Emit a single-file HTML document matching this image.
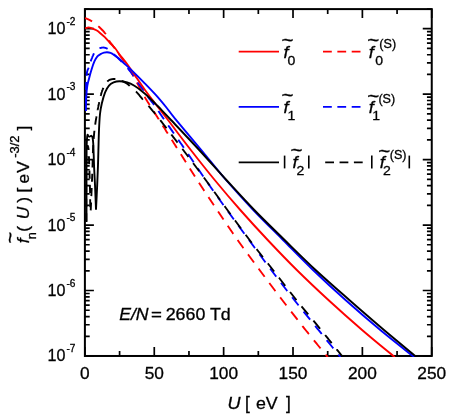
<!DOCTYPE html>
<html><head><meta charset="utf-8"><title>chart</title><style>
html,body{margin:0;padding:0;background:#fff;}
body{width:456px;height:417px;overflow:hidden;}
svg{display:block;will-change:transform;}
text{font-family:"Liberation Sans",sans-serif;fill:#000;stroke:#000;stroke-width:0.3px;}
.i{font-style:italic;}
</style></head><body>
<svg width="456" height="417" viewBox="0 0 456 417">
<rect width="456" height="417" fill="#fff"/>
<defs><clipPath id="c"><rect x="84.70" y="8.10" width="348.05" height="348.88"/></clipPath></defs>
<g stroke="#000" fill="none">
<rect x="84.90" y="9.10" width="346.85" height="346.88" stroke-width="2"/>
<path d="M84.90,355.98v-9 M84.90,9.10v9 M119.59,355.98v-5 M119.59,9.10v5 M154.27,355.98v-9 M154.27,9.10v9 M188.96,355.98v-5 M188.96,9.10v5 M223.64,355.98v-9 M223.64,9.10v9 M258.33,355.98v-5 M258.33,9.10v5 M293.01,355.98v-9 M293.01,9.10v9 M327.70,355.98v-5 M327.70,9.10v5 M362.38,355.98v-9 M362.38,9.10v9 M397.07,355.98v-5 M397.07,9.10v5 M431.75,355.98v-9 M431.75,9.10v9 M84.90,355.98h9.0 M431.75,355.98h-9.0 M84.90,336.28h4.8 M431.75,336.28h-4.8 M84.90,324.75h4.8 M431.75,324.75h-4.8 M84.90,316.57h4.8 M431.75,316.57h-4.8 M84.90,310.23h4.8 M431.75,310.23h-4.8 M84.90,305.05h4.8 M431.75,305.05h-4.8 M84.90,300.66h4.8 M431.75,300.66h-4.8 M84.90,296.87h4.8 M431.75,296.87h-4.8 M84.90,293.52h4.8 M431.75,293.52h-4.8 M84.90,290.52h9.0 M431.75,290.52h-9.0 M84.90,270.82h4.8 M431.75,270.82h-4.8 M84.90,259.29h4.8 M431.75,259.29h-4.8 M84.90,251.12h4.8 M431.75,251.12h-4.8 M84.90,244.77h4.8 M431.75,244.77h-4.8 M84.90,239.59h4.8 M431.75,239.59h-4.8 M84.90,235.21h4.8 M431.75,235.21h-4.8 M84.90,231.41h4.8 M431.75,231.41h-4.8 M84.90,228.06h4.8 M431.75,228.06h-4.8 M84.90,225.07h9.0 M431.75,225.07h-9.0 M84.90,205.36h4.8 M431.75,205.36h-4.8 M84.90,193.84h4.8 M431.75,193.84h-4.8 M84.90,185.66h4.8 M431.75,185.66h-4.8 M84.90,179.32h4.8 M431.75,179.32h-4.8 M84.90,174.13h4.8 M431.75,174.13h-4.8 M84.90,169.75h4.8 M431.75,169.75h-4.8 M84.90,165.96h4.8 M431.75,165.96h-4.8 M84.90,162.61h4.8 M431.75,162.61h-4.8 M84.90,159.61h9.0 M431.75,159.61h-9.0 M84.90,139.91h4.8 M431.75,139.91h-4.8 M84.90,128.38h4.8 M431.75,128.38h-4.8 M84.90,120.20h4.8 M431.75,120.20h-4.8 M84.90,113.86h4.8 M431.75,113.86h-4.8 M84.90,108.68h4.8 M431.75,108.68h-4.8 M84.90,104.30h4.8 M431.75,104.30h-4.8 M84.90,100.50h4.8 M431.75,100.50h-4.8 M84.90,97.15h4.8 M431.75,97.15h-4.8 M84.90,94.16h9.0 M431.75,94.16h-9.0 M84.90,74.45h4.8 M431.75,74.45h-4.8 M84.90,62.93h4.8 M431.75,62.93h-4.8 M84.90,54.75h4.8 M431.75,54.75h-4.8 M84.90,48.40h4.8 M431.75,48.40h-4.8 M84.90,43.22h4.8 M431.75,43.22h-4.8 M84.90,38.84h4.8 M431.75,38.84h-4.8 M84.90,35.04h4.8 M431.75,35.04h-4.8 M84.90,31.70h4.8 M431.75,31.70h-4.8 M84.90,28.70h9.0 M431.75,28.70h-9.0 M84.90,9.00h4.8 M431.75,9.00h-4.8 " stroke-width="1.7"/>
</g>
<g clip-path="url(#c)" fill="none" stroke-width="1.9" stroke-linejoin="round">
<path d="M85.10,18.00 L85.22,18.05 L85.34,18.11 L85.48,18.17 L85.64,18.24 L85.80,18.31 L85.98,18.39 L86.16,18.46 L86.36,18.55 L86.56,18.63 L86.77,18.72 L86.99,18.82 L87.21,18.91 L87.44,19.01 L87.68,19.11 L87.92,19.22 L88.16,19.33 L88.41,19.44 L88.66,19.55 L88.91,19.67 L89.16,19.79 L89.42,19.91 L89.67,20.03 L89.92,20.16 L90.17,20.29 L90.42,20.42 L90.66,20.55 L90.90,20.69 L91.14,20.82 L91.37,20.96 L91.60,21.10 L91.82,21.24 L92.05,21.39 L92.08,21.41 M98.30,26.22 L98.50,26.40 L98.74,26.61 L98.97,26.83 L99.22,27.05 L99.46,27.28 L99.71,27.51 L99.96,27.74 L100.21,27.98 L100.46,28.22 L100.71,28.46 L100.97,28.71 L101.22,28.95 L101.47,29.20 L101.73,29.46 L101.98,29.71 L102.23,29.96 L102.48,30.22 L102.73,30.47 L102.97,30.73 L103.22,30.99 L103.46,31.25 L103.69,31.51 L103.92,31.76 L104.15,32.02 L104.38,32.28 L104.59,32.54 L104.81,32.79 L105.01,33.05 L105.22,33.30 L105.41,33.55 L105.60,33.80 L105.78,34.05 L105.84,34.13 M109.08,40.35 L109.15,40.48 L109.26,40.70 L109.37,40.90 L109.49,41.11 L109.60,41.30 L109.71,41.49 L109.83,41.66 L109.93,41.83 L110.04,42.00 L110.15,42.16 L110.25,42.31 L110.35,42.45 L110.45,42.59 L110.55,42.73 L110.64,42.86 L110.74,42.99 L110.83,43.11 L110.93,43.23 L111.02,43.35 L111.11,43.46 L111.20,43.58 L111.29,43.69 L111.39,43.80 L111.48,43.91 L111.57,44.02 L111.66,44.13 L111.75,44.24 L111.84,44.35 L111.93,44.46 L112.02,44.58 L112.12,44.70 L112.21,44.82 L112.31,44.94 L112.40,45.07 L112.50,45.20 L112.60,45.34 L112.70,45.48 L112.81,45.62 L112.92,45.77 L113.03,45.92 L113.14,46.07 L113.26,46.23 L113.37,46.39 L113.49,46.54 L113.60,46.70 L113.72,46.86 L113.84,47.02 L113.95,47.18 L114.07,47.34 L114.18,47.49 L114.29,47.65 L114.40,47.80 L114.51,47.95 L114.62,48.09 L114.72,48.23 L114.82,48.37 L114.88,48.45" stroke="#f00"/>
<path d=" M118.70,53.90 L118.73,53.94 L118.88,54.16 L119.04,54.38 L119.20,54.60 L119.36,54.82 L119.53,55.05 L119.69,55.28 L119.87,55.51 L120.04,55.75 L120.22,55.99 L120.41,56.23 L120.59,56.48 L120.78,56.73 L120.97,56.98 L121.16,57.24 L121.36,57.50 L121.56,57.76 L121.76,58.02 L121.96,58.29 L122.16,58.56 L122.36,58.83 L122.56,59.10 L122.77,59.37 L122.97,59.65 L123.18,59.93 L123.38,60.21 L123.59,60.49 L123.79,60.78 L124.00,61.06 L124.20,61.35 L124.40,61.63 L124.60,61.92 L124.66,62.00 M128.71,68.22 L128.81,68.38 L129.01,68.71 L129.21,69.03 L129.41,69.36 L129.61,69.69 L129.81,70.02 L130.01,70.35 L130.21,70.68 L130.41,71.01 L130.61,71.34 L130.80,71.67 L131.00,72.00 L131.20,72.33 L131.40,72.67 L131.60,73.02 L131.80,73.36 L132.00,73.71 L132.20,74.07 L132.40,74.42 L132.60,74.78 L132.81,75.14 L133.01,75.50 L133.21,75.87 L133.41,76.23 L133.46,76.32 M136.88,82.54 L136.96,82.70 L137.13,82.99 L137.28,83.27 L137.44,83.55 L137.59,83.83 L137.74,84.10 L137.89,84.36 L138.03,84.62 L138.18,84.88 L138.32,85.13 L138.46,85.38 L138.60,85.63 L138.73,85.88 L138.87,86.12 L139.00,86.36 L139.13,86.60 L139.27,86.84 L139.40,87.08 L139.53,87.32 L139.66,87.56 L139.79,87.79 L139.92,88.03 L140.05,88.27 L140.19,88.51 L140.32,88.75 L140.45,89.00 L140.59,89.24 L140.72,89.49 L140.86,89.75 L141.00,90.00 L141.14,90.26 L141.28,90.51 L141.35,90.64 M144.66,96.86 L144.76,97.02 L144.90,97.28 L145.05,97.54 L145.20,97.80 L145.35,98.05 L145.49,98.30 L145.64,98.54 L145.78,98.78 L145.91,99.01 L146.05,99.24 L146.19,99.46 L146.32,99.68 L146.46,99.90 L146.59,100.12 L146.73,100.34 L146.87,100.56 L147.00,100.78 L147.14,101.01 L147.29,101.23 L147.43,101.46 L147.58,101.70 L147.73,101.94 L147.89,102.18 L148.05,102.43 L148.22,102.69 L148.39,102.96 L148.57,103.24 L148.75,103.53 L148.94,103.82 L149.14,104.13 L149.34,104.46 L149.55,104.79 L149.66,104.96 M153.60,111.18 L153.71,111.36 L154.00,111.81 L154.30,112.28 L154.60,112.76 L154.92,113.25 L155.24,113.77 L155.58,114.30 L155.93,114.84 L156.29,115.41 L156.66,116.00 L157.05,116.61 L157.45,117.24 L157.86,117.89 L158.29,118.57 L158.74,119.27 L158.74,119.28 M162.68,125.50 L162.96,125.94 L163.56,126.89 L164.18,127.86 L164.81,128.85 L165.45,129.86 L166.09,130.88 L166.75,131.92 L167.42,132.97 L167.81,133.60 M171.75,139.82 L172.19,140.51 L172.88,141.60 L173.56,142.68 L174.24,143.75 L174.92,144.82 L175.59,145.88 L176.26,146.93 L176.88,147.92 M180.81,154.14 L181.36,155.00 L181.99,156.00 L182.61,157.00 L183.24,158.00 L183.87,159.00 L184.50,160.00 L185.13,161.00 L185.76,162.00 L185.91,162.24 M189.83,168.46 L190.17,169.00 L190.80,170.00 L191.43,171.00 L192.07,172.00 L192.70,173.00 L193.34,174.00 L193.98,175.00 L194.62,176.00 L194.98,176.56 M199.01,182.78 L199.15,183.00 L199.80,184.00 L200.46,185.00 L201.11,186.00 L201.77,187.00 L202.43,188.00 L203.08,189.00 L203.74,190.00 L204.33,190.88 M208.45,197.10 L209.05,198.00 L209.72,199.00 L210.39,200.00 L211.06,201.00 L211.73,202.00 L212.40,203.00 L213.07,204.00 L213.74,205.00 L213.87,205.20 M218.06,211.42 L218.45,212.00 L219.12,213.00 L219.79,214.00 L220.46,215.00 L221.14,216.00 L221.81,217.00 L222.48,218.00 L223.16,219.00 L223.51,219.52 M227.72,225.74 L227.90,226.00 L228.58,227.00 L229.26,228.00 L229.95,229.00 L230.63,230.00 L231.32,231.00 L232.01,232.00 L232.70,233.00 L233.28,233.84 M237.64,240.06 L238.31,241.00 L239.02,242.00 L239.74,243.00 L240.45,244.00 L241.17,245.00 L241.89,246.00 L242.62,247.00 L243.34,248.00 L243.46,248.16 M248.01,254.38 L248.47,255.00 L249.21,256.00 L249.95,257.00 L250.68,258.00 L251.43,259.00 L252.17,260.00 L252.91,261.00 L253.65,262.00 L254.01,262.48 M258.63,268.70 L258.86,269.00 L259.60,270.00 L260.34,271.00 L261.09,272.00 L261.83,273.00 L262.58,274.00 L263.32,275.00 L264.07,276.00 L264.67,276.80 M269.32,283.02 L270.06,284.00 L270.81,285.00 L271.57,286.00 L272.32,287.00 L273.07,288.00 L273.83,289.00 L274.59,290.00 L275.34,291.00 L275.43,291.12 M280.16,297.34 L280.67,298.00 L281.43,299.00 L282.20,300.00 L282.97,301.00 L283.74,302.01 L284.51,303.01 L285.29,304.02 L286.07,305.03 L286.38,305.44 M291.19,311.66 L291.56,312.13 L292.35,313.15 L293.14,314.16 L293.92,315.17 L294.71,316.18 L295.50,317.19 L296.29,318.20 L297.07,319.20 L297.51,319.76 M302.41,325.98 L302.53,326.14 L303.30,327.11 L304.07,328.08 L304.84,329.04 L305.60,330.00 L306.37,330.97 L307.16,331.95 L307.97,332.96 L308.79,333.98 L308.87,334.08 M313.92,340.30 L314.78,341.35 L315.64,342.41 L316.49,343.45 L317.33,344.48 L318.17,345.50 L318.99,346.50 L319.79,347.48 L320.55,348.40 M325.66,354.62 L325.97,355.00 L326.49,355.64 L326.98,356.23 L327.42,356.77 L327.81,357.25" stroke="#f00"/>
<path d="M85.90,111.00 L85.90,110.62 L85.90,110.61 M85.90,104.39 L85.90,103.89 L85.90,103.11 L85.90,102.32 L85.90,101.52 L85.90,100.71 L85.90,99.89 L85.90,99.07 L85.91,98.25 L85.91,97.43 L85.92,96.62 L85.92,96.29 M86.00,90.07 L86.00,90.00 L86.02,89.38 L86.03,88.76 L86.05,88.13 L86.06,87.51 L86.08,86.90 L86.10,86.28 L86.12,85.67 L86.13,85.06 L86.15,84.45 L86.17,83.85 L86.20,83.25 L86.22,82.66 L86.24,82.08 L86.24,81.97 M86.60,75.75 L86.63,75.34 L86.67,74.90 L86.71,74.49 L86.76,74.09 L86.80,73.70 L86.85,73.33 L86.89,72.99 L86.94,72.67 L86.99,72.37 L87.05,72.08 L87.10,71.81 L87.16,71.56 L87.21,71.33 L87.27,71.10 L87.33,70.89 L87.39,70.69 L87.46,70.50 L87.52,70.32 L87.58,70.15 L87.65,69.98 L87.72,69.82 L87.78,69.66 L87.85,69.50 L87.92,69.35 L87.99,69.20 L88.06,69.04 L88.13,68.88 L88.20,68.72 L88.27,68.56 L88.34,68.39 L88.41,68.21 L88.48,68.02 L88.56,67.83 L88.62,67.65 M90.64,61.43 L90.73,61.19 L90.82,60.94 L90.91,60.70 L91.00,60.45 L91.10,60.20 L91.20,59.95 L91.30,59.69 L91.40,59.43 L91.50,59.17 L91.61,58.90 L91.71,58.62 L91.82,58.35 L91.93,58.07 L92.04,57.79 L92.16,57.51 L92.27,57.23 L92.38,56.95 L92.50,56.67 L92.61,56.40 L92.73,56.12 L92.85,55.84 L92.97,55.57 L93.08,55.30 L93.20,55.04 L93.32,54.77 L93.44,54.52 L93.56,54.27 L93.68,54.02 L93.80,53.78 L93.92,53.55 L94.03,53.33 M99.48,48.23 L99.51,48.22 L99.61,48.19 L99.72,48.15 L99.82,48.12 L99.93,48.09 L100.03,48.06 L100.14,48.03 L100.24,48.01 L100.35,47.98 L100.45,47.96 L100.56,47.93 L100.66,47.91 L100.77,47.89 L100.88,47.87 L100.98,47.84 L101.09,47.82 L101.20,47.80 L101.31,47.78 L101.42,47.76 L101.52,47.74 L101.63,47.72 L101.74,47.70 L101.84,47.68 L101.95,47.66 L102.05,47.65 L102.16,47.63 L102.27,47.62 L102.37,47.61 L102.48,47.59 L102.59,47.58 L102.69,47.58 L102.80,47.57 L102.91,47.56 L103.02,47.56 L103.12,47.56 L103.23,47.56 L103.34,47.56 L103.46,47.56 L103.57,47.57 L103.68,47.58 L103.79,47.59 L103.91,47.60 L104.02,47.61 L104.14,47.63 L104.26,47.65 L104.38,47.67 L104.50,47.70 L104.62,47.73 L104.75,47.76 L104.87,47.79 L104.99,47.82 L105.12,47.85 L105.25,47.89 L105.37,47.92 L105.50,47.96 L105.63,48.00 L105.76,48.04 L105.89,48.09 L106.03,48.14 L106.16,48.18 L106.29,48.23 L106.42,48.29 L106.56,48.34 L106.69,48.40 L106.83,48.46 L106.97,48.52 L107.10,48.59 L107.24,48.66 L107.38,48.73 L107.52,48.80 L107.58,48.84 M113.80,54.22 L113.88,54.29 L114.06,54.45 L114.24,54.61 L114.42,54.76 L114.60,54.92 L114.79,55.09 L114.97,55.25 L115.16,55.41 L115.35,55.58 L115.54,55.75 L115.73,55.92 L115.93,56.09 L116.13,56.27 L116.33,56.45 L116.53,56.64 L116.74,56.83 L116.95,57.02 L117.16,57.22 L117.38,57.42 L117.60,57.63 L117.82,57.84 L118.05,58.06 L118.28,58.29 L118.52,58.52 L118.76,58.76 L119.00,59.00 L119.25,59.25 L119.51,59.52 L119.78,59.79 L120.05,60.07 L120.34,60.36 L120.63,60.66 L120.92,60.96 L121.22,61.27 L121.52,61.58 L121.83,61.90 M127.56,68.12 L127.80,68.40 L128.04,68.69 L128.29,68.97 L128.52,69.25 L128.75,69.53 L128.98,69.81 L129.21,70.08 L129.43,70.35 L129.65,70.63 L129.86,70.90 L130.07,71.16 L130.28,71.43 L130.49,71.69 L130.69,71.96 L130.89,72.22 L131.09,72.48 L131.28,72.73 L131.47,72.99 L131.66,73.24 L131.85,73.50 L132.04,73.75 L132.22,74.00 L132.40,74.25 L132.58,74.50 L132.76,74.74 L132.94,74.99 L133.11,75.23 L133.29,75.48 L133.46,75.72 L133.63,75.96 L133.80,76.20 L133.81,76.22 M137.75,82.44 L137.84,82.57 L138.00,82.80 L138.16,83.03 L138.33,83.26 L138.49,83.50 L138.66,83.73 L138.84,83.97 L139.01,84.20 L139.19,84.44 L139.37,84.68 L139.55,84.92 L139.73,85.16 L139.92,85.40 L140.10,85.64 L140.29,85.88 L140.48,86.12 L140.66,86.36 L140.85,86.61 L141.04,86.85 L141.23,87.09 L141.41,87.33 L141.60,87.58 L141.79,87.82 L141.97,88.06 L142.16,88.31 L142.34,88.55 L142.52,88.79 L142.70,89.04 L142.88,89.28 L143.05,89.52 L143.23,89.76 L143.40,90.00 L143.57,90.24 L143.73,90.48 L143.78,90.54 M147.89,96.76 L148.02,96.95 L148.20,97.20 L148.38,97.45 L148.56,97.69 L148.73,97.92 L148.91,98.15 L149.08,98.38 L149.25,98.61 L149.43,98.83 L149.60,99.05 L149.78,99.27 L149.95,99.49 L150.13,99.71 L150.31,99.93 L150.49,100.16 L150.67,100.38 L150.86,100.61 L151.04,100.85 L151.24,101.09 L151.43,101.33 L151.63,101.58 L151.84,101.84 L152.05,102.11 L152.26,102.39 L152.48,102.67 L152.71,102.97 L152.94,103.28 L153.18,103.59 L153.42,103.93 L153.67,104.27 L153.93,104.63 L154.10,104.86 M158.40,111.08 L158.42,111.11 L158.74,111.59 L159.07,112.07 L159.41,112.57 L159.76,113.09 L160.12,113.62 L160.50,114.17 L160.88,114.74 L161.28,115.32 L161.69,115.92 L162.12,116.55 L162.56,117.19 L163.02,117.86 L163.50,118.55 L163.93,119.18 M168.26,125.40 L168.66,125.97 L169.33,126.92 L170.01,127.90 L170.70,128.89 L171.41,129.90 L172.13,130.92 L172.85,131.96 L173.58,133.00 L173.93,133.50 M178.28,139.72 L178.84,140.53 L179.59,141.61 L180.34,142.69 L181.09,143.76 L181.83,144.83 L182.56,145.88 L183.29,146.93 L183.90,147.82 M188.16,154.04 L188.81,155.00 L189.48,156.00 L190.16,157.00 L190.83,158.00 L191.50,159.00 L192.17,160.00 L192.84,161.00 L193.52,162.00 L193.61,162.14 M197.78,168.36 L198.21,169.00 L198.88,170.00 L199.56,171.00 L200.23,172.00 L200.91,173.00 L201.59,174.00 L202.27,175.00 L202.95,176.00 L203.26,176.46 M207.56,182.68 L207.79,183.00 L208.48,184.00 L209.18,185.00 L209.88,186.00 L210.59,187.00 L211.29,188.00 L211.99,189.00 L212.70,190.00 L213.25,190.78 M217.67,197.00 L218.38,198.00 L219.10,199.00 L219.81,200.00 L220.53,201.00 L221.24,202.00 L221.96,203.00 L222.68,204.00 L223.40,205.00 L223.47,205.10 M227.95,211.32 L228.45,212.00 L229.17,213.00 L229.90,214.00 L230.62,215.00 L231.35,216.00 L232.08,217.00 L232.81,218.00 L233.54,219.00 L233.85,219.42 M238.41,225.64 L238.68,226.00 L239.42,227.00 L240.15,228.00 L240.89,229.00 L241.63,230.00 L242.36,231.00 L243.10,232.00 L243.84,233.00 L244.38,233.74 M248.97,239.96 L249.00,240.00 L249.74,241.00 L250.47,242.00 L251.21,243.00 L251.94,244.00 L252.68,245.00 L253.41,246.00 L254.15,247.00 L254.88,248.00 L254.93,248.06 M259.50,254.28 L260.03,255.00 L260.77,256.00 L261.51,257.00 L262.25,258.00 L262.99,259.00 L263.73,260.00 L264.47,261.00 L265.21,262.00 L265.49,262.38 M270.14,268.60 L270.45,269.00 L271.20,270.00 L271.96,271.00 L272.71,272.00 L273.47,273.00 L274.23,274.00 L274.99,275.00 L275.74,276.00 L276.28,276.70 M281.03,282.92 L281.09,283.00 L281.86,284.00 L282.62,285.00 L283.39,286.00 L284.17,287.00 L284.94,288.00 L285.71,289.00 L286.49,290.00 L287.26,291.00 L287.28,291.02 M292.13,297.24 L292.73,298.00 L293.51,299.00 L294.30,300.00 L295.09,301.00 L295.89,302.01 L296.69,303.01 L297.49,304.02 L298.29,305.03 L298.54,305.34 M303.54,311.56 L304.00,312.13 L304.82,313.15 L305.65,314.16 L306.47,315.17 L307.29,316.18 L308.10,317.19 L308.92,318.20 L309.74,319.20 L310.11,319.66 M315.16,325.88 L315.37,326.14 L316.16,327.11 L316.95,328.08 L317.73,329.04 L318.50,330.00 L319.28,330.97 L320.08,331.95 L320.89,332.96 L321.72,333.98 M326.75,340.20 L326.83,340.30 L327.68,341.35 L328.53,342.41 L329.38,343.45 L330.21,344.48 L331.04,345.50 L331.85,346.50 L332.64,347.48 L333.31,348.30 M338.34,354.52 L338.73,355.00 L339.25,355.64 L339.73,356.23 L340.16,356.77 L340.55,357.25" stroke="#00f"/>
<path d=" M86.30,221.24 L86.30,220.98 L86.30,220.39 L86.30,219.75 L86.30,219.06 L86.30,218.33 L86.30,217.55 L86.30,216.74 L86.30,215.88 L86.30,215.00 L86.30,214.09 L86.30,213.14 L86.30,213.14 M86.29,206.92 L86.29,206.05 L86.29,205.00 L86.29,203.95 L86.29,202.90 L86.29,201.86 L86.29,200.83 L86.29,199.81 L86.29,198.82 M86.30,192.60 L86.30,192.25 L86.31,191.31 L86.31,190.36 L86.31,189.41 L86.31,188.45 L86.31,187.49 L86.31,186.52 L86.31,185.56 L86.32,184.59 L86.32,184.50 M86.33,178.28 L86.33,177.94 L86.34,177.02 L86.34,176.11 L86.34,175.22 L86.35,174.34 L86.35,173.48 L86.36,172.63 L86.36,171.81 L86.37,171.00 L86.38,170.21 L86.38,170.18 M86.46,163.96 L86.46,163.51 L86.47,162.93 L86.49,162.37 L86.50,161.81 L86.51,161.28 L86.52,160.75 L86.53,160.24 L86.54,159.74 L86.56,159.25 L86.57,158.77 L86.58,158.30 L86.60,157.85 L86.61,157.40 L86.63,156.96 L86.64,156.53 L86.66,156.11 L86.67,155.86 M87.03,149.64 L87.06,149.38 L87.08,149.10 L87.11,148.82 L87.14,148.56 L87.16,148.31 L87.19,148.07 L87.22,147.84 L87.25,147.62 L87.27,147.42 L87.30,147.22 L87.33,147.04 L87.36,146.87 L87.39,146.71 L87.42,146.57 L87.45,146.44 L87.48,146.32 L87.51,146.22 L87.54,146.13 L87.57,146.06 L87.60,146.00 L87.63,145.95 L87.66,145.91 L87.69,145.88 L87.72,145.86 L87.76,145.84 L87.79,145.84 L87.82,145.85 L87.86,145.86 L87.89,145.89 L87.93,145.93 L87.96,145.98 L88.00,146.04 L88.03,146.12 L88.07,146.21 L88.10,146.31 L88.13,146.43 L88.17,146.57 L88.20,146.72 L88.24,146.89 L88.27,147.07 L88.31,147.28 L88.34,147.50 L88.38,147.74 L88.41,148.00 L88.44,148.28 L88.48,148.58 L88.51,148.90 L88.54,149.25 L88.57,149.61 L88.60,150.00 L88.60,150.04 M88.92,156.26 L88.94,156.85 L88.97,157.55 L89.00,158.27 L89.02,159.00 L89.05,159.74 L89.08,160.48 L89.10,161.23 L89.13,161.99 L89.16,162.74 L89.18,163.50 L89.21,164.25 L89.21,164.36 M89.42,170.58 L89.42,170.67 L89.45,171.33 L89.47,171.99 L89.49,172.65 L89.51,173.31 L89.53,173.97 L89.56,174.62 L89.58,175.28 L89.60,175.94 L89.62,176.59 L89.64,177.25 L89.66,177.90 L89.68,178.56 L89.68,178.68 M89.86,184.90 L89.87,185.20 L89.89,185.87 L89.91,186.55 L89.93,187.23 L89.94,187.92 L89.96,188.61 L89.98,189.30 L90.00,190.00 L90.02,190.73 L90.03,191.50 L90.05,192.32 L90.06,193.00 M90.16,199.22 L90.17,199.79 L90.18,200.77 L90.19,201.74 L90.21,202.69 L90.22,203.62 L90.23,204.54 L90.25,205.42 L90.26,206.27 L90.28,207.08 L90.28,207.32 M90.68,210.46 L90.69,210.38 L90.72,209.84 L90.76,209.24 L90.80,208.57 L90.83,207.85 L90.87,207.08 L90.91,206.27 L90.95,205.42 L90.99,204.54 L91.03,203.62 L91.07,202.69 L91.09,202.36 M91.34,196.14 L91.35,195.91 L91.39,194.98 L91.43,194.06 L91.46,193.17 L91.50,192.32 L91.53,191.50 L91.57,190.73 L91.60,190.00 L91.63,189.30 L91.66,188.61 L91.69,188.04 M91.95,181.82 L91.98,181.19 L92.00,180.53 L92.03,179.88 L92.06,179.22 L92.08,178.56 L92.11,177.90 L92.13,177.25 L92.16,176.59 L92.18,175.94 L92.21,175.28 L92.23,174.62 L92.26,173.97 L92.27,173.72 M92.48,167.50 L92.49,167.29 L92.51,166.61 L92.53,165.92 L92.55,165.23 L92.56,164.54 L92.58,163.84 L92.60,163.15 L92.62,162.45 L92.64,161.76 L92.65,161.07 L92.67,160.38 L92.69,159.69 L92.69,159.40 M92.87,153.18 L92.88,153.04 L92.90,152.42 L92.92,151.80 L92.95,151.19 L92.97,150.59 L93.00,150.00 L93.03,149.42 L93.05,148.85 L93.08,148.28 L93.11,147.71 L93.14,147.16 L93.17,146.61 L93.20,146.06 L93.23,145.52 L93.26,145.08 M93.68,138.86 L93.71,138.54 L93.74,138.08 L93.78,137.63 L93.82,137.18 L93.85,136.73 L93.89,136.29 L93.93,135.86 L93.96,135.43 L94.00,135.00 L94.04,134.58 L94.07,134.16 L94.11,133.76 L94.15,133.35 L94.19,132.95 L94.23,132.56 L94.27,132.17 L94.31,131.79 L94.35,131.42 L94.39,131.04 L94.42,130.76 M95.21,124.54 L95.24,124.33 L95.27,124.06 L95.31,123.81 L95.34,123.56 L95.37,123.32 L95.41,123.09 L95.44,122.87 L95.47,122.65 L95.50,122.44 L95.53,122.23 L95.56,122.03 L95.60,121.83 L95.63,121.63 L95.66,121.44 L95.69,121.25 L95.72,121.06 L95.75,120.87 L95.78,120.68 L95.81,120.49 L95.84,120.30 L95.88,120.11 L95.91,119.92 L95.94,119.72 L95.98,119.52 L96.01,119.31 L96.05,119.10 L96.08,118.89 L96.12,118.66 L96.16,118.44 L96.20,118.20 L96.24,117.96 L96.28,117.71 L96.32,117.46 L96.37,117.21 L96.41,116.96 L96.45,116.70 L96.49,116.44 M97.60,110.22 L97.60,110.20 L97.65,109.93 L97.70,109.67 L97.75,109.40 L97.81,109.13 L97.86,108.85 L97.91,108.58 L97.97,108.31 L98.02,108.03 L98.07,107.76 L98.13,107.49 L98.18,107.21 L98.24,106.94 L98.30,106.66 L98.35,106.39 L98.41,106.12 L98.46,105.85 L98.52,105.58 L98.57,105.31 L98.63,105.05 L98.68,104.78 L98.74,104.52 L98.79,104.26 L98.84,104.00 L98.90,103.75 L98.95,103.50 L99.00,103.25 L99.05,103.01 L99.10,102.77 L99.15,102.53 L99.20,102.30 L99.24,102.12 M100.64,95.90 L100.70,95.69 L100.77,95.44 L100.83,95.19 L100.90,94.94 L100.98,94.68 L101.05,94.42 L101.12,94.16 L101.20,93.89 L101.27,93.62 L101.35,93.36 L101.43,93.08 L101.51,92.81 L101.59,92.54 L101.68,92.26 L101.77,91.99 L101.85,91.71 L101.94,91.44 L102.04,91.16 L102.13,90.89 L102.23,90.62 L102.33,90.34 L102.43,90.07 L102.54,89.81 L102.64,89.54 L102.75,89.27 L102.87,89.01 L102.98,88.76 L103.10,88.50 L103.22,88.24 L103.35,87.98 L103.44,87.80 M107.35,81.58 L107.40,81.53 L107.55,81.36 L107.70,81.20 L107.85,81.05 L108.00,80.91 L108.14,80.78 L108.29,80.65 L108.44,80.54 L108.58,80.43 L108.73,80.33 L108.88,80.23 L109.02,80.15 L109.17,80.07 L109.31,79.99 L109.46,79.92 L109.60,79.86 L109.74,79.80 L109.89,79.74 L110.03,79.69 L110.17,79.65 L110.32,79.60 L110.46,79.56 L110.60,79.52 L110.74,79.49 L110.88,79.45 L111.02,79.42 L111.16,79.39 L111.30,79.36 L111.44,79.33 L111.58,79.30 L111.72,79.26 L111.86,79.23 L112.00,79.20 L112.14,79.17 L112.27,79.14 L112.41,79.11 L112.54,79.09 L112.67,79.07 L112.80,79.05 L112.93,79.03 L113.06,79.02 L113.19,79.01 L113.32,79.00 L113.45,78.99 L113.57,78.99 L113.70,78.99 L113.83,78.99 L113.96,78.99 L114.08,78.99 L114.21,79.00 L114.34,79.00 L114.47,79.01 L114.60,79.02 L114.74,79.03 L114.87,79.05 L115.00,79.06 L115.14,79.08 L115.28,79.10 L115.41,79.11 M121.63,80.86 L121.74,80.91 L121.93,80.99 L122.12,81.08 L122.32,81.17 L122.52,81.26 L122.72,81.35 L122.92,81.44 L123.12,81.54 L123.32,81.64 L123.52,81.74 L123.72,81.84 L123.92,81.94 L124.12,82.04 L124.32,82.14 L124.52,82.24 L124.71,82.34 L124.90,82.44 L125.09,82.55 L125.28,82.65 L125.46,82.74 L125.64,82.84 L125.81,82.94 L125.98,83.04 L126.14,83.13 L126.30,83.22 L126.45,83.31 L126.60,83.40 L126.74,83.48 L126.87,83.56 L126.99,83.64 L127.10,83.71 L127.20,83.77 L127.30,83.84 L127.39,83.90 L127.48,83.96 L127.56,84.02 L127.64,84.07 L127.71,84.13 L127.79,84.19 L127.86,84.24 L127.93,84.30 L128.00,84.36 L128.07,84.42 L128.15,84.49 L128.22,84.56 L128.30,84.63 L128.39,84.70 L128.47,84.78 L128.57,84.87 L128.67,84.96 L128.77,85.06 L128.89,85.16 L129.01,85.27 L129.14,85.39 L129.28,85.52 L129.44,85.65 L129.60,85.80 L129.73,85.92 M135.95,91.54 L136.09,91.67 L136.33,91.92 L136.57,92.16 L136.80,92.40 L137.03,92.64 L137.26,92.89 L137.49,93.14 L137.72,93.39 L137.95,93.65 L138.18,93.91 L138.41,94.18 L138.63,94.44 L138.86,94.71 L139.09,94.98 L139.32,95.25 L139.54,95.52 L139.77,95.79 L139.99,96.06 L140.21,96.34 L140.43,96.61 L140.66,96.88 L140.88,97.15 L141.09,97.42 L141.31,97.69 L141.53,97.95 L141.74,98.22 L141.95,98.48 L142.17,98.74 L142.38,98.99 L142.58,99.24 L142.79,99.49 L142.92,99.64 M148.50,105.86 L148.51,105.87 L148.66,106.04 L148.80,106.20 L148.93,106.35 L149.06,106.50 L149.17,106.63 L149.28,106.75 L149.38,106.86 L149.47,106.97 L149.55,107.07 L149.63,107.16 L149.71,107.25 L149.78,107.33 L149.85,107.42 L149.92,107.50 L149.98,107.58 L150.05,107.66 L150.12,107.74 L150.19,107.82 L150.26,107.91 L150.33,108.00 L150.41,108.10 L150.50,108.20 L150.59,108.31 L150.68,108.43 L150.79,108.56 L150.90,108.70 L151.02,108.85 L151.15,109.01 L151.30,109.18 L151.45,109.37 L151.62,109.58 L151.80,109.80 L151.99,110.03 L152.17,110.25 L152.35,110.46 L152.53,110.68 L152.71,110.89 L152.88,111.10 L153.06,111.31 L153.25,111.53 L153.43,111.75 L153.63,111.98 L153.82,112.21 L154.03,112.45 L154.24,112.71 L154.46,112.97 L154.69,113.25 L154.94,113.54 L155.19,113.85 L155.28,113.96 M160.24,120.18 L160.64,120.69 L161.21,121.43 L161.81,122.20 L162.44,123.01 L163.10,123.85 L163.78,124.73 L164.49,125.64 L165.21,126.58 L165.96,127.54 L166.53,128.28 M171.33,134.50 L171.60,134.85 L172.44,135.95 L173.29,137.05 L174.14,138.16 L175.00,139.27 L175.85,140.38 L176.70,141.48 L177.54,142.59 L177.55,142.60 M182.30,148.82 L182.43,148.99 L183.20,150.00 L183.96,151.00 L184.72,152.00 L185.48,153.00 L186.24,154.00 L186.99,155.00 L187.75,156.00 L188.45,156.92 M193.14,163.14 L193.79,164.00 L194.54,165.00 L195.29,166.00 L196.04,167.00 L196.79,168.00 L197.53,169.00 L198.28,170.00 L199.03,171.00 L199.21,171.24 M203.83,177.46 L204.22,178.00 L204.96,179.00 L205.70,180.00 L206.44,181.00 L207.17,182.00 L207.90,183.00 L208.63,184.00 L209.36,185.00 L209.76,185.56 M214.26,191.78 L214.41,192.00 L215.13,193.00 L215.85,194.00 L216.57,195.00 L217.29,196.00 L218.00,197.00 L218.72,198.00 L219.44,199.00 L220.07,199.88 M224.56,206.10 L225.21,207.00 L225.94,208.00 L226.67,209.00 L227.40,210.00 L228.13,211.00 L228.86,212.00 L229.59,213.00 L230.33,214.00 L230.47,214.20 M235.03,220.42 L235.45,221.00 L236.19,222.00 L236.92,223.00 L237.66,224.00 L238.39,225.00 L239.13,226.00 L239.87,227.00 L240.61,228.00 L240.99,228.52 M245.63,234.74 L245.82,235.00 L246.58,236.00 L247.33,237.00 L248.08,238.00 L248.84,239.00 L249.60,240.00 L250.36,241.00 L251.13,242.00 L251.77,242.84 M256.58,249.06 L257.31,250.00 L258.09,251.00 L258.87,252.00 L259.66,253.00 L260.44,254.00 L261.22,255.00 L262.01,256.00 L262.80,257.00 L262.92,257.16 M267.81,263.38 L268.30,264.00 L269.09,265.00 L269.87,266.00 L270.65,267.00 L271.44,268.00 L272.22,269.00 L273.00,270.00 L273.78,271.00 L274.15,271.48 M278.97,277.70 L279.21,278.00 L279.98,279.00 L280.75,280.00 L281.52,281.00 L282.30,282.00 L283.07,283.00 L283.84,284.00 L284.62,285.00 L285.24,285.80 M290.08,292.02 L290.85,293.00 L291.64,294.00 L292.42,295.00 L293.21,296.00 L294.01,297.00 L294.80,298.00 L295.60,299.00 L296.40,300.00 L296.50,300.12 M301.54,306.34 L302.13,307.06 L302.97,308.07 L303.80,309.09 L304.64,310.10 L305.48,311.12 L306.32,312.13 L307.16,313.15 L308.00,314.16 L308.23,314.44 M313.40,320.66 L313.85,321.20 L314.68,322.20 L315.50,323.19 L316.32,324.18 L317.13,325.16 L317.93,326.14 L318.74,327.11 L319.53,328.08 L320.09,328.76 M325.14,334.98 L325.17,335.02 L326.02,336.06 L326.87,337.12 L327.72,338.17 L328.58,339.24 L329.43,340.30 L330.28,341.35 L331.13,342.41 L331.67,343.08 M336.67,349.30 L336.73,349.38 L337.46,350.29 L338.16,351.16 L338.84,352.01 L339.49,352.82 L340.11,353.59 L340.69,354.32 L341.24,355.00 L341.75,355.64 L342.23,356.23 L342.66,356.77 L343.05,357.25" stroke="#000"/>
<path d="M85.10,28.30 C85.68,28.15 87.45,27.40 88.60,27.40 C89.75,27.40 90.70,27.82 92.00,28.30 C93.30,28.78 95.07,29.53 96.40,30.30 C97.73,31.07 98.60,31.75 100.00,32.90 C101.40,34.05 103.20,35.60 104.80,37.20 C106.40,38.80 107.78,40.53 109.60,42.50 C111.42,44.47 114.10,47.08 115.70,49.00 C117.30,50.92 117.33,51.55 119.20,54.00 C121.07,56.45 124.37,60.27 126.90,63.70 C129.43,67.13 131.35,70.18 134.40,74.60 C137.45,79.02 141.80,85.47 145.20,90.20 C148.60,94.93 151.00,98.03 154.80,103.00 C158.60,107.97 162.00,112.17 168.00,120.00 C174.00,127.83 183.02,140.00 190.80,150.00 C198.58,160.00 206.45,170.00 214.70,180.00 C222.95,190.00 231.47,200.00 240.30,210.00 C249.13,220.00 258.28,230.00 267.70,240.00 C277.12,250.00 286.68,260.00 296.80,270.00 C306.92,280.00 317.52,290.00 328.40,300.00 C339.28,310.00 351.03,320.46 362.10,330.00 C373.17,339.54 389.36,352.71 394.81,357.25" stroke="#f00"/>
<path d="M85.90,111.00 C85.97,108.57 86.07,100.60 86.30,96.40 C86.53,92.20 86.82,88.88 87.30,85.80 C87.78,82.72 88.47,80.70 89.20,77.90 C89.93,75.10 90.82,71.78 91.70,69.00 C92.58,66.22 93.55,63.32 94.50,61.20 C95.45,59.08 96.40,57.47 97.40,56.30 C98.40,55.13 99.40,54.80 100.50,54.20 C101.60,53.60 102.92,53.03 104.00,52.70 C105.08,52.37 105.92,52.17 107.00,52.20 C108.08,52.23 109.27,52.40 110.50,52.90 C111.73,53.40 112.95,54.22 114.40,55.20 C115.85,56.18 117.60,57.47 119.20,58.80 C120.80,60.13 121.87,61.23 124.00,63.20 C126.13,65.17 128.67,67.37 132.00,70.60 C135.33,73.83 140.00,78.50 144.00,82.60 C148.00,86.70 152.20,90.97 156.00,95.20 C159.80,99.43 163.63,104.10 166.80,108.00 C169.97,111.90 169.25,111.60 175.00,118.60 C180.75,125.60 192.80,139.77 201.30,150.00 C209.80,160.23 217.33,170.00 226.00,180.00 C234.67,190.00 243.80,200.00 253.30,210.00 C262.80,220.00 273.05,230.00 283.00,240.00 C292.95,250.00 302.58,260.00 313.00,270.00 C323.42,280.00 334.28,290.00 345.50,300.00 C356.72,310.00 368.82,320.46 380.30,330.00 C391.78,339.54 408.70,352.71 414.38,357.25" stroke="#00f"/>
<path d="M86.50,222.00 C86.50,218.33 86.50,208.67 86.50,200.00 C86.50,191.33 86.48,178.33 86.50,170.00 C86.52,161.67 86.53,155.00 86.60,150.00 C86.67,145.00 86.75,142.53 86.90,140.00 C87.05,137.47 87.25,135.40 87.50,134.80 C87.75,134.20 88.05,136.10 88.40,136.40 C88.75,136.70 89.10,136.70 89.60,136.60 C90.10,136.50 90.92,135.67 91.40,135.80 C91.88,135.93 92.20,136.20 92.50,137.40 C92.80,138.60 93.00,140.07 93.20,143.00 C93.40,145.93 93.55,151.00 93.70,155.00 C93.85,159.00 93.88,162.00 94.10,167.00 C94.32,172.00 94.68,177.92 95.00,185.00 C95.32,192.08 95.83,205.42 96.00,209.50" stroke="#000"/>
<path d="M96.00,209.50 C96.20,205.42 96.87,192.42 97.20,185.00 C97.53,177.58 97.80,170.83 98.00,165.00 C98.20,159.17 98.23,155.83 98.40,150.00 C98.57,144.17 98.73,136.00 99.00,130.00 C99.27,124.00 99.53,118.42 100.00,114.00 C100.47,109.58 100.95,107.10 101.80,103.50 C102.65,99.90 103.90,95.38 105.10,92.40 C106.30,89.42 107.58,87.27 109.00,85.60 C110.42,83.93 111.87,83.13 113.60,82.40 C115.33,81.67 117.13,81.20 119.40,81.20 C121.67,81.20 124.70,81.63 127.20,82.40 C129.70,83.17 132.00,84.37 134.40,85.80 C136.80,87.23 139.20,89.10 141.60,91.00 C144.00,92.90 146.40,94.97 148.80,97.20 C151.20,99.43 154.00,102.40 156.00,104.40 C158.00,106.40 158.30,106.60 160.80,109.20 C163.30,111.80 164.60,113.20 171.00,120.00 C177.40,126.80 189.97,140.00 199.20,150.00 C208.43,160.00 217.22,170.00 226.40,180.00 C235.58,190.00 244.60,200.00 254.30,210.00 C264.00,220.00 274.38,230.00 284.60,240.00 C294.82,250.00 304.82,260.00 315.60,270.00 C326.38,280.00 337.90,290.00 349.30,300.00 C360.70,310.00 372.75,320.46 384.00,330.00 C395.25,339.54 411.35,352.71 416.82,357.25" stroke="#000"/>
</g>
<text x="84.90" y="379.15" font-size="17.3" text-anchor="middle">0</text>
<text x="154.27" y="379.15" font-size="17.3" text-anchor="middle">50</text>
<text x="223.64" y="379.15" font-size="17.3" text-anchor="middle">100</text>
<text x="293.01" y="379.15" font-size="17.3" text-anchor="middle">150</text>
<text x="362.38" y="379.15" font-size="17.3" text-anchor="middle">200</text>
<text x="431.75" y="379.15" font-size="17.3" text-anchor="middle">250</text>
<text transform="translate(65.50,361.43) scale(0.930,0.980)" font-size="17.3" text-anchor="end">10</text>
<text x="66.50" y="352.18" font-size="10.1">-7</text>
<text transform="translate(65.50,295.97) scale(0.930,0.980)" font-size="17.3" text-anchor="end">10</text>
<text x="66.50" y="286.72" font-size="10.1">-6</text>
<text transform="translate(65.50,230.52) scale(0.930,0.980)" font-size="17.3" text-anchor="end">10</text>
<text x="66.50" y="221.27" font-size="10.1">-5</text>
<text transform="translate(65.50,165.06) scale(0.930,0.980)" font-size="17.3" text-anchor="end">10</text>
<text x="66.50" y="155.81" font-size="10.1">-4</text>
<text transform="translate(65.50,99.61) scale(0.930,0.980)" font-size="17.3" text-anchor="end">10</text>
<text x="66.50" y="90.36" font-size="10.1">-3</text>
<text transform="translate(65.50,34.15) scale(0.930,0.980)" font-size="17.3" text-anchor="end">10</text>
<text x="66.50" y="24.90" font-size="10.1">-2</text>
<text transform="translate(227.40,409.00) scale(1.040,1.000)" font-size="17.3" class="i">U</text>
<text transform="translate(245.00,409.30) scale(1.000,1.080)" font-size="17.3">[</text>
<text transform="translate(255.90,409.00) scale(1.030,1.000)" font-size="17.3">eV</text>
<text transform="translate(285.90,409.30) scale(1.000,1.080)" font-size="17.3">]</text>
<g transform="translate(28.8,243) rotate(-90)">
<text x="-0.20" y="0.00" font-size="17.3" class="i">f</text>
<text x="3.80" y="7.20" font-size="12.5">n</text>
<text x="11.30" y="0.00" font-size="17.3">(</text>
<text x="23.70" y="0.00" font-size="17.3" class="i">U</text>
<text x="40.30" y="0.00" font-size="17.3">)</text>
<text x="50.40" y="0.00" font-size="17.3">[</text>
<text x="59.50" y="0.00" font-size="17.3">e</text>
<text x="70.30" y="0.00" font-size="17.3">V</text>
<text x="85.20" y="-9.60" font-size="13">-3/2</text>
<text x="112.40" y="0.00" font-size="17.3">]</text>
<text x="-0.50" y="-12.20" font-size="20">~</text>
</g>
<text transform="translate(119.20,319.60) scale(1.020,1.000)" font-size="17.3" class="i">E/N</text>
<text transform="translate(151.00,319.60) scale(1.080,1.000)" font-size="17.3">=</text>
<text transform="translate(165.70,319.60) scale(1.030,1.000)" font-size="17.3">2660 Td</text>
<path d="M238.7,51.60H279" stroke="#f00" stroke-width="1.8"/>
<path d="M323.00,51.60h37.5" stroke="#f00" stroke-width="1.8" stroke-dasharray="8.8 5.55"/>
<text transform="translate(283.60,57.50) scale(1.050,1.000)" font-size="17.3" class="i">f</text>
<text transform="translate(281.60,46.60) scale(1.030,1.000)" font-size="20">~</text>
<text transform="translate(287.60,64.70) scale(1.040,1.000)" font-size="13.5">0</text>
<text transform="translate(368.80,57.50) scale(1.050,1.000)" font-size="17.3" class="i">f</text>
<text transform="translate(367.20,47.20) scale(1.030,1.000)" font-size="20">~</text>
<text transform="translate(375.20,64.70) scale(1.040,1.000)" font-size="13.5">0</text>
<text x="379.30" y="48.00" font-size="12.6">(S)</text>
<path d="M238.7,106.90H279" stroke="#00f" stroke-width="1.8"/>
<path d="M323.00,106.90h37.5" stroke="#00f" stroke-width="1.8" stroke-dasharray="8.8 5.55"/>
<text transform="translate(283.60,112.80) scale(1.050,1.000)" font-size="17.3" class="i">f</text>
<text transform="translate(281.60,101.90) scale(1.030,1.000)" font-size="20">~</text>
<text transform="translate(287.60,120.00) scale(1.040,1.000)" font-size="13.5">1</text>
<text transform="translate(368.80,112.80) scale(1.050,1.000)" font-size="17.3" class="i">f</text>
<text transform="translate(367.20,102.50) scale(1.030,1.000)" font-size="20">~</text>
<text transform="translate(372.20,120.00) scale(1.040,1.000)" font-size="13.5">1</text>
<text x="378.40" y="103.30" font-size="12.6">(S)</text>
<path d="M238.7,162.30H279" stroke="#000" stroke-width="1.8"/>
<path d="M325.20,162.30h37.5" stroke="#000" stroke-width="1.8" stroke-dasharray="8.8 5.55"/>
<text transform="translate(292.60,168.20) scale(1.050,1.000)" font-size="17.3" class="i">f</text>
<text transform="translate(290.60,157.30) scale(1.030,1.000)" font-size="20">~</text>
<text transform="translate(296.60,175.40) scale(1.040,1.000)" font-size="13.5">2</text>
<path d="M284.60,155.60v12.8" stroke="#000" stroke-width="1.6"/>
<path d="M308.80,155.60v12.8" stroke="#000" stroke-width="1.6"/>
<text transform="translate(379.80,168.20) scale(1.050,1.000)" font-size="17.3" class="i">f</text>
<text transform="translate(378.20,157.90) scale(1.030,1.000)" font-size="20">~</text>
<text transform="translate(383.00,175.40) scale(1.040,1.000)" font-size="13.5">2</text>
<text x="389.70" y="158.70" font-size="12.6">(S)</text>
<path d="M371.80,155.60v12.8" stroke="#000" stroke-width="1.6"/>
<path d="M409.30,155.60v12.8" stroke="#000" stroke-width="1.6"/>
</svg>
</body></html>
